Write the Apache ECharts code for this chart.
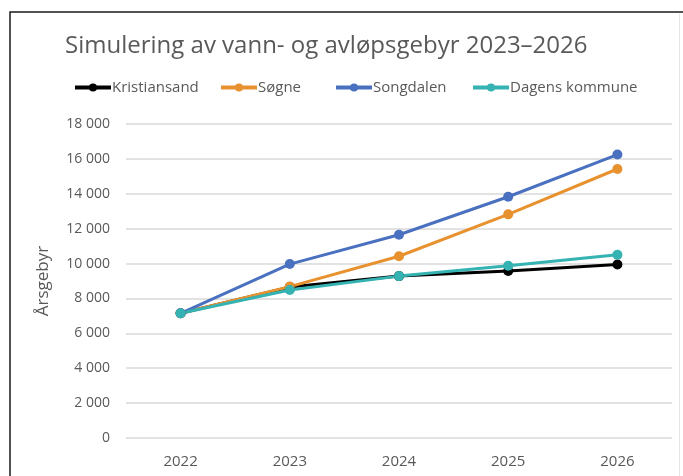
<!DOCTYPE html>
<html>
<head>
<meta charset="utf-8">
<script src="https://cdn.jsdelivr.net/npm/echarts@6/dist/echarts.min.js"></script>
<style>
html,body{margin:0;padding:0;background:#fff;}
#c{width:683px;height:476px;}
</style>
</head>
<body>
<div id="c"></div>
<script>
const titleText = 'Simulering av vann- og avløpsgebyr 2023–2026';
const yAxisName = 'Årsgebyr';
const categories = ['2022', '2023', '2024', '2025', '2026'];
const seriesNames = ['Kristiansand', 'Søgne', 'Songdalen', 'Dagens kommune'];
const kristiansand = [7150, 8650, 9280, 9570, 9950];
const sogne = [7150, 8680, 10420, 12820, 15420];
const songdalen = [7150, 9970, 11650, 13830, 16250];
const dagens = [7150, 8480, 9280, 9870, 10500];
const seriesValues = [kristiansand, sogne, songdalen, dagens];
const colors = ['#000000', '#E8922F', '#4A70C0', '#35B2B2'];
const legendLefts = [68, 214, 329, 466];

const font = '"Open Sans", sans-serif';
const chart = echarts.init(document.getElementById('c'));
const fmt = v => {
  const s = String(v);
  return s.length > 3 ? s.slice(0, s.length - 3) + ' ' + s.slice(-3) : s;
};
chart.setOption({
  animation: false,
  backgroundColor: '#fff',
  color: colors,
  title: {
    text: titleText,
    left: 60, top: 29,
    textStyle: {fontFamily: font, fontSize: 24, fontWeight: 'normal', color: '#595959'}
  },
  legend: seriesNames.map((n, i) => ({
    data: [n],
    left: legendLefts[i], top: 75,
    itemWidth: 36, itemHeight: 10, itemGap: 0,
    lineStyle: {width: 4},
    textStyle: {fontFamily: font, fontSize: 15, color: '#595959', padding: [0, 0, 0, -4]}
  })),
  grid: {left: 126, right: 11, top: 124, bottom: 38},
  xAxis: {
    type: 'category',
    data: categories,
    boundaryGap: true,
    axisLine: {show: false},
    axisTick: {show: false},
    axisLabel: {fontFamily: font, fontSize: 15, color: '#595959', margin: 16}
  },
  yAxis: {
    type: 'value',
    min: 0, max: 18000, interval: 2000,
    name: yAxisName,
    nameLocation: 'middle',
    nameGap: 74,
    nameTextStyle: {fontFamily: font, fontSize: 17, color: '#595959'},
    axisLabel: {fontFamily: font, fontSize: 14, color: '#595959', margin: 16, formatter: fmt},
    splitLine: {lineStyle: {color: '#D9D9D9', width: 1.5}}
  },
  series: seriesNames.map((n, i) => ({
    name: n,
    type: 'line',
    data: seriesValues[i],
    symbol: 'circle',
    symbolSize: 10,
    lineStyle: {width: 3, color: colors[i]},
    itemStyle: {color: colors[i]}
  })),
  graphic: [{
    type: 'rect',
    shape: {x: 10, y: 12, width: 720, height: 520},
    style: {fill: 'none', stroke: '#1a1a1a', lineWidth: 1.5},
    silent: true
  }, {
    type: 'line',
    shape: {x1: 679.5, y1: 14, x2: 679.5, y2: 476},
    style: {stroke: '#E6E6E6', lineWidth: 1},
    silent: true
  }]
});
</script>
</body>
</html>
